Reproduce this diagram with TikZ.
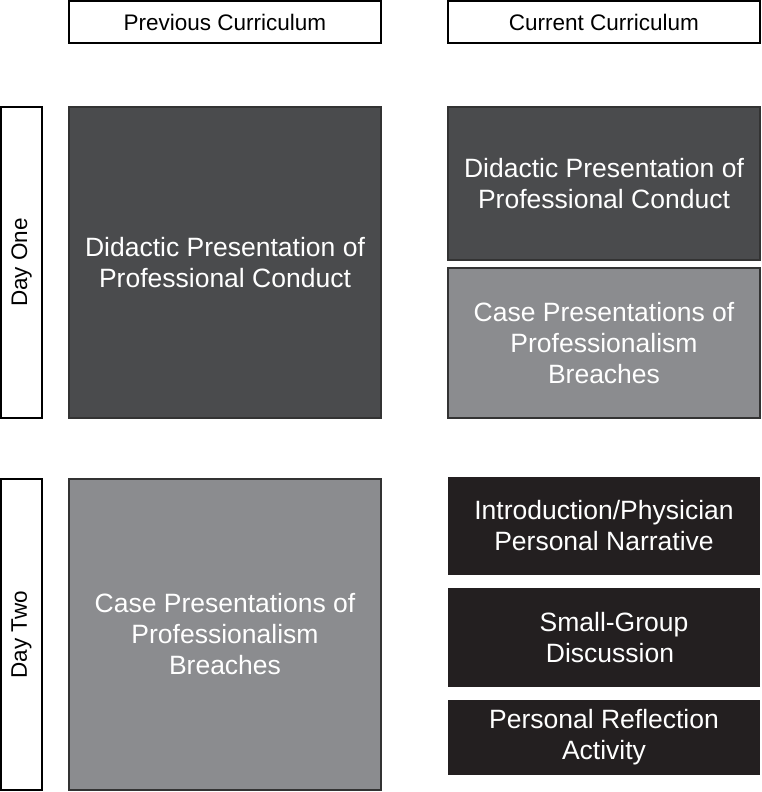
\documentclass[tikz,border=0pt]{standalone}
\usepackage{fontspec}
\setmainfont{Liberation Sans}
\definecolor{darkbox}{HTML}{4A4B4D}
\definecolor{greybox}{HTML}{8B8C8F}
\definecolor{blackbox}{HTML}{231F20}
\begin{document}
\begin{tikzpicture}[x=1pt,y=-1pt,
    headbox/.style={draw=black,line width=1.8pt,fill=white,inner sep=0pt,
        minimum width=312pt,minimum height=42pt,font=\fontsize{22.5}{26}\selectfont},
    daybox/.style={draw=black,line width=1.8pt,fill=white,inner sep=0pt,
        minimum width=41pt,minimum height=311pt,rotate=90,font=\fontsize{22.5}{26}\selectfont},
    block/.style={inner sep=0pt,align=center,text=white,
        font=\fontsize{26.5}{31}\selectfont},
    didactic/.style={block,draw=black!80,line width=1.5pt,fill=darkbox},
    cases/.style={block,draw=black!80,line width=1.5pt,fill=greybox},
    session/.style={block,fill=blackbox,minimum width=312pt}]
    \useasboundingbox (0,0) rectangle (762,792);
    % column heads
    \node[headbox] (prevhead) at (225,22) {Previous Curriculum};
    \node[headbox] (currhead) at (604,22) {Current Curriculum};
    % day labels
    \node[daybox,minimum width=311pt,minimum height=41pt] (dayone) at (21.5,262.5) {Day One};
    \node[daybox,minimum width=311pt,minimum height=41pt] (daytwo) at (21.5,634.5) {Day Two};
    % previous curriculum
    \node[didactic,minimum width=312pt,minimum height=311pt] (prevdidactic) at (225,262.5)
        {Didactic Presentation of\\Professional Conduct};
    \node[cases,minimum width=312pt,minimum height=311pt] (prevcases) at (225,634.5)
        {Case Presentations of\\Professionalism\\Breaches};
    % current curriculum
    \node[didactic,minimum width=312pt,minimum height=153pt] (currdidactic) at (604,183.5)
        {Didactic Presentation of\\Professional Conduct};
    \node[cases,minimum width=312pt,minimum height=150pt] (currcases) at (604,343)
        {Case Presentations of\\Professionalism\\Breaches};
    \node[session,minimum height=98pt] (narrative) at (604,526)
        {Introduction/Physician\\Personal Narrative};
    \node[session,minimum height=99pt] (smallgroup) at (604,637.5)
        {\hspace*{20pt}Small-Group\\\hspace*{12pt}Discussion};
    \node[session,minimum height=75pt] (reflection) at (604,737.5)
        {Personal Reflection\\Activity};
\end{tikzpicture}
\end{document}
